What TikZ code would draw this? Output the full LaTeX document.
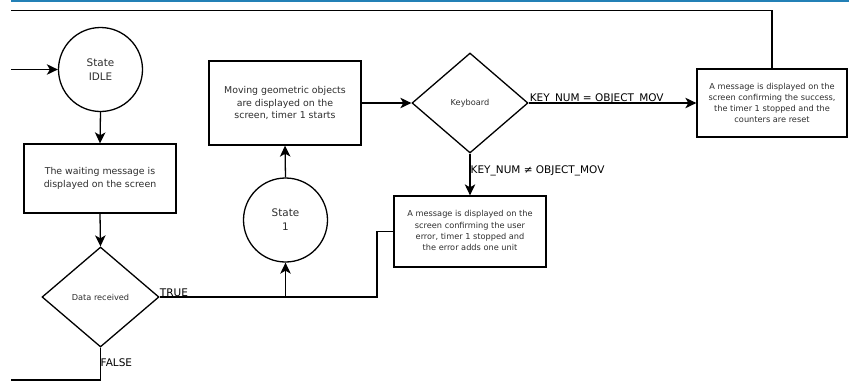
\documentclass[tikz,border=0pt]{standalone}
\usepackage{fontspec}
\setmainfont{DejaVu Sans}
\usetikzlibrary{shapes.geometric,arrows.meta,calc}
\definecolor{topblue}{RGB}{35,128,182}
\definecolor{txtgray}{RGB}{45,45,45}
\begin{document}
\begin{tikzpicture}[x=1pt,y=-1pt,
  every node/.style={text=txtgray},
  ln/.style={line width=1.3pt, draw=black},
  arr/.style={ln, -{Stealth[length=11pt,width=10.5pt,inset=3pt]}},
  statenode/.style={circle, ln, minimum size=84pt, inner sep=0pt, align=center,
     font=\fontsize{10.4}{14}\selectfont},
  bigbox/.style={rectangle, ln, inner sep=0pt, align=center,
     font=\fontsize{9.4}{12.5}\selectfont},
  smallbox/.style={rectangle, ln, inner sep=0pt, align=center,
     font=\fontsize{8.2}{11.2}\selectfont},
  decision/.style={diamond, ln, inner sep=0pt, align=center,
     font=\fontsize{8.2}{10}\selectfont},
  lbl/.style={inner sep=0pt, text=black, font=\fontsize{10.5}{12}\selectfont}
]
\useasboundingbox (0,0) rectangle (853,383);
% page rule
\draw[topblue, line width=1.5pt] (11,0.8) -- (849,0.8);

% nodes
\node[statenode] (idle) at (100.5,69.5) {State\\IDLE};
\node[bigbox, minimum width=152pt, minimum height=69pt] (wait) at (100,178.5)
  {The waiting message is\\displayed on the screen};
\node[decision, minimum width=117pt, minimum height=100pt] (data) at (100.5,297) {Data received};
\node[bigbox, minimum width=152pt, minimum height=84pt] (moving) at (285,103)
  {Moving geometric objects\\are displayed on the\\screen, timer 1 starts};
\node[statenode] (state1) at (285.5,220) {State\\1};
\node[decision, minimum width=116pt, minimum height=100pt] (kbd) at (470,103) {Keyboard};
\node[smallbox, minimum width=152pt, minimum height=71pt] (err) at (470,231.5)
  {\raisebox{4pt}{\begin{tabular}{@{}c@{}}A message is displayed on the\\screen confirming the user\\error, timer 1 stopped and\\the error adds one unit\end{tabular}}};
\node[smallbox, minimum width=150pt, minimum height=68pt] (succ) at (772,103)
  {A message is displayed on the\\screen confirming the success,\\the timer 1 stopped and the\\counters are reset};

% free ends
\coordinate (startL) at (11,69.5);
\coordinate (topL) at (11,10.5);
\coordinate (botL) at (11,380);
\coordinate (trueR) at (377,297);

% connectors
\draw[arr] (startL) -- (idle.west);
\draw[arr] (idle.south) -- (wait.north);
\draw[arr] (wait.south) -- (data.north);
\draw[ln] (data.east) -- (trueR) |- (err.west);
\draw[arr] (state1.south |- data.east) -- (state1.south);
\draw[arr] (state1.north) -- (moving.south);
\draw[arr] (moving.east) -- (kbd.west);
\draw[arr] (kbd.south) -- (err.north);
\draw[arr] (kbd.east) -- (succ.west);
\draw[ln] (succ.north) |- (topL);
\draw[ln] (data.south) |- (botL);

% labels
\node[lbl, anchor=base west] (ltrue) at ($(data.east)+(0,-0.5)$) {TRUE};
\node[lbl, anchor=west] (lfalse) at ($(data.south)+(0,14.7)$) {FALSE};
\node[lbl, anchor=west] (lneq) at ($(kbd.south)+(0.5,17)$) {KEY\_NUM ≠ OBJECT\_MOV};
\node[lbl, anchor=base west] (leq) at ($(kbd.east)+(1,-1.5)$) {KEY\_NUM = OBJECT\_MOV};
\end{tikzpicture}
\end{document}
